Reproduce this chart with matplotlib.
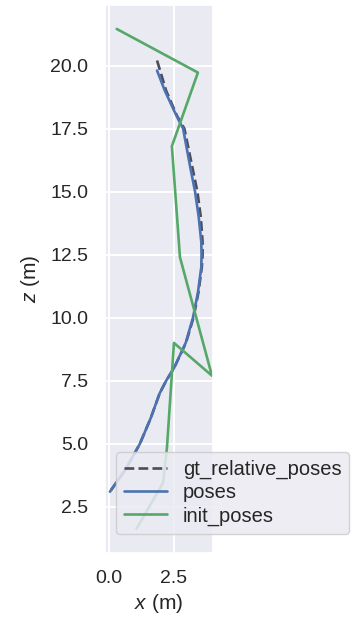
import matplotlib
matplotlib.use("Agg")
import matplotlib.pyplot as plt
import seaborn as sns

sns.set_theme(style="darkgrid")
plt.rcParams["font.family"] = ["Liberation Sans", "DejaVu Sans"]
plt.rcParams["mathtext.fontset"] = "custom"
plt.rcParams["mathtext.it"] = "Liberation Sans:italic"
plt.rcParams["mathtext.rm"] = "Liberation Sans"

# Trajectories in the x-z plane (metres)
gt_x = [1.85, 2.2, 2.62, 2.9, 3.2, 3.4, 3.53, 3.6, 3.6, 3.57, 3.44, 3.25, 2.96, 2.5, 2.2, 1.95, 1.6, 1.19, 0.65, 0.04]
gt_z = [20.2, 19.0, 18.0, 17.5, 16.0, 15.0, 14.0, 13.0, 12.5, 12.0, 11.0, 10.0, 9.0, 8.0, 7.5, 7.0, 6.0, 5.0, 4.0, 3.1]

pose_x = [1.85, 2.15, 2.6, 2.85, 3.12, 3.31, 3.45, 3.55, 3.56, 3.55, 3.42, 3.23, 2.95, 2.5, 2.2, 1.95, 1.6, 1.19, 0.65, 0.04]
pose_z = [19.8, 19.0, 18.0, 17.5, 16.0, 15.0, 14.0, 13.0, 12.5, 12.0, 11.0, 10.0, 9.0, 8.0, 7.5, 7.0, 6.0, 5.0, 4.0, 3.1]

init_x = [0.3, 3.42, 2.42, 2.73, 3.96, 2.5, 2.23, 2.08, 1.06]
init_z = [21.45, 19.72, 16.8, 12.4, 7.7, 9.0, 4.84, 3.45, 1.63]

x_ticks = [0.0, 2.5]
z_ticks = [2.5, 5.0, 7.5, 10.0, 12.5, 15.0, 17.5, 20.0]

fig = plt.figure(figsize=(3.53, 6.26), dpi=100)
ax = fig.add_axes([105 / 353, 73 / 626, 108 / 353, 548 / 626])

ax.plot(gt_x, gt_z, linestyle="--", color="#4c4c5a", lw=1.9, label="gt_relative_poses")
ax.plot(pose_x, pose_z, color="#4c72b0", lw=1.9, label="poses")
ax.plot(init_x, init_z, color="#55a868", lw=1.9, label="init_poses")

ax.set_xlim(-0.15, 4.0)
ax.set_ylim(0.67, 22.4)
ax.set_xticks(x_ticks)
ax.set_yticks(z_ticks)
ax.set_xticklabels([f"{v:.1f}" for v in x_ticks])
ax.set_yticklabels([f"{v:.1f}" for v in z_ticks])
ax.tick_params(labelsize=14, pad=6)
for line in ax.get_xgridlines() + ax.get_ygridlines():
    line.set_linewidth(1.4)

ax.set_xlabel("$x$ (m)", fontsize=15, labelpad=4)
ax.set_ylabel("$z$ (m)", fontsize=15, labelpad=6)

leg = ax.legend(loc="lower left", bbox_to_anchor=(0.105, 0.035), fontsize=14.5,
                frameon=True, borderaxespad=0, handlelength=2.1,
                labelspacing=0.2, borderpad=0.4)
leg.get_frame().set_facecolor("#eaeaf2")
leg.get_frame().set_edgecolor("#cccccc")
leg.get_frame().set_alpha(0.85)

fig.savefig("out.png", dpi=100)
